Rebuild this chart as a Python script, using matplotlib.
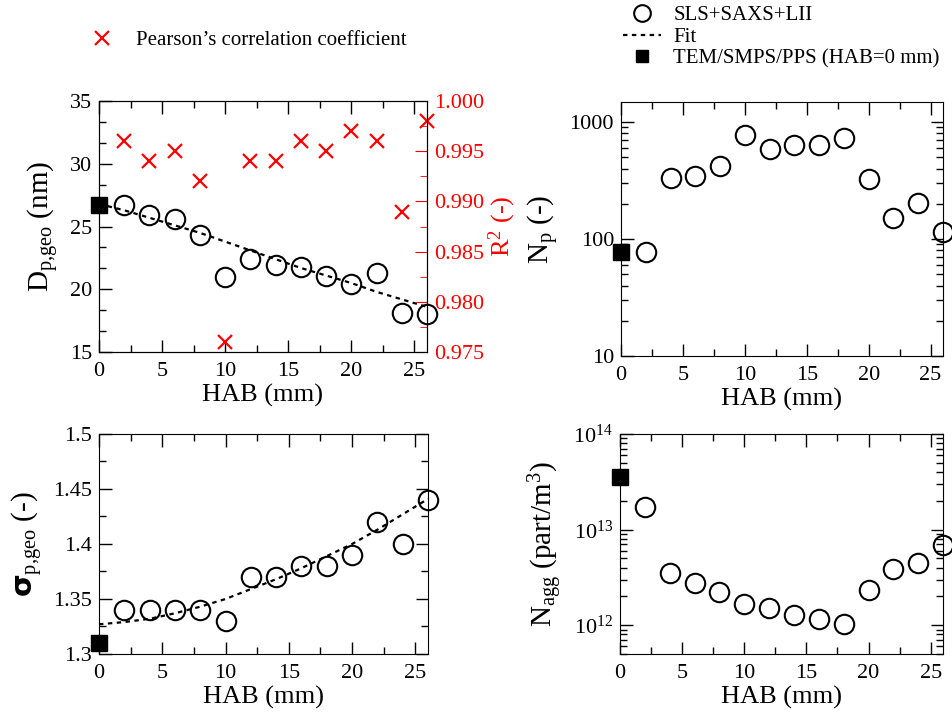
import numpy as np
import matplotlib.pyplot as plt
from matplotlib.ticker import AutoMinorLocator, MultipleLocator, LogLocator, NullFormatter, FixedLocator

plt.rcParams['font.family'] = ['Liberation Serif', 'DejaVu Serif']
plt.rcParams['mathtext.fontset'] = 'custom'
plt.rcParams['mathtext.rm'] = 'Liberation Serif'
plt.rcParams['mathtext.it'] = 'Liberation Serif:italic'

# data
hab = [2, 4, 6, 8, 10, 12, 14, 16, 18, 20, 22, 24, 26]
hab_fit = [0, 2, 4, 6, 8, 10, 12, 14, 16, 18, 20, 22, 24, 26]

dp = [26.7, 25.9, 25.6, 24.3, 21.0, 22.4, 21.9, 21.8, 21.1, 20.4, 21.3, 18.1, 18.0]
dp_fit = [26.8, 26.3, 25.7, 25.1, 24.5, 23.8, 23.1, 22.4, 21.7, 21.1, 20.5, 19.8, 19.2, 18.6]
dp_tem = 26.7
r2 = [0.996, 0.994, 0.995, 0.992, 0.976, 0.994, 0.994, 0.996, 0.995, 0.997, 0.996, 0.989, 0.998]

npart = [77, 334, 347, 421, 774, 585, 636, 636, 726, 324, 150, 202, 115]
np_tem = 77

sigma = [1.34, 1.34, 1.34, 1.34, 1.33, 1.37, 1.37, 1.38, 1.38, 1.39, 1.42, 1.40, 1.44]
sigma_fit = [1.327, 1.329, 1.332, 1.337, 1.343, 1.350, 1.359, 1.368, 1.378, 1.389, 1.400, 1.413, 1.427, 1.441]
sigma_tem = 1.31

nagg = [1.73e13, 3.48e12, 2.77e12, 2.23e12, 1.65e12, 1.52e12, 1.27e12, 1.15e12, 1.02e12,
        2.31e12, 3.83e12, 4.49e12, 6.89e12]
nagg_tem = 3.57e13

circ = dict(marker='o', ms=14, mfc='none', mec='black', mew=1.5, ls='none', clip_on=False, zorder=5)
sq = dict(marker='s', ms=11, color='black', ls='none', clip_on=False, zorder=6)
fitstyle = dict(color='black', lw=1.6, ls=(0, (2, 2)), clip_on=False)

fig = plt.figure(figsize=(9.52, 7.17), dpi=100)
ax1 = fig.add_axes([0.104, 0.509, 0.3445, 0.350])
ax2 = fig.add_axes([0.6523, 0.5035, 0.3382, 0.354])
ax3 = fig.add_axes([0.104, 0.0879, 0.3456, 0.3068])
ax4 = fig.add_axes([0.6513, 0.0879, 0.3393, 0.3068])

tick_fs = 16
label_fs = 19


def style_x(ax):
    ax.set_xlim(0, 26)
    ax.xaxis.set_major_locator(MultipleLocator(5))
    ax.xaxis.set_minor_locator(AutoMinorLocator(2))
    ax.set_xlabel('HAB (mm)', fontsize=label_fs, labelpad=2)
    ax.tick_params(which='both', direction='in', top=True, right=True, labelsize=tick_fs)
    ax.tick_params(which='major', length=9, width=1)
    ax.tick_params(which='minor', length=5, width=1)
    ax.tick_params(axis='x', which='major', pad=7)
    ax.tick_params(axis='y', which='major', pad=5)


# top-left: Dp,geo and R^2
ax1.plot(hab_fit, dp_fit, **fitstyle)
ax1.plot(hab, dp, **circ)
ax1.plot([0], [dp_tem], **sq)
style_x(ax1)
ax1.tick_params(right=False)
ax1.set_ylim(15, 35)
ax1.yaxis.set_major_locator(MultipleLocator(5))
ax1.yaxis.set_minor_locator(AutoMinorLocator(3))
ax1.set_ylabel(r'D$_{\mathrm{p{,}geo}}$ (nm)', fontsize=label_fs + 2, labelpad=6)

ax1r = ax1.twinx()
ax1r.plot(hab, r2, marker='x', ms=10, mew=1.6, color='red', ls='none', clip_on=False)
ax1r.set_ylim(0.975, 1.0)
ax1r.yaxis.set_major_locator(MultipleLocator(0.005))
ax1r.yaxis.set_minor_locator(AutoMinorLocator(2))
ax1r.yaxis.set_major_formatter(plt.FuncFormatter(lambda v, p: f'{v:.3f}'))
ax1r.tick_params(which='both', direction='in', colors='red', labelsize=tick_fs)
ax1r.tick_params(which='major', length=9, pad=5)
ax1r.tick_params(which='minor', length=5)
ax1r.set_ylabel(r'R$^2$ (-)', color='red', fontsize=label_fs, labelpad=2)

# top-right: Np
ax2.plot(hab, npart, **circ)
ax2.plot([0], [np_tem], **sq)
ax2.set_yscale('log')
ax2.set_ylim(10, 1480)
style_x(ax2)
ax2.yaxis.set_major_locator(FixedLocator([10, 100, 1000]))
ax2.yaxis.set_major_formatter(plt.FuncFormatter(lambda v, p: f'{v:g}'))
ax2.yaxis.set_minor_locator(LogLocator(base=10, subs=np.arange(2, 10)))
ax2.yaxis.set_minor_formatter(NullFormatter())
ax2.set_ylabel(r'N$_{\mathrm{p}}$ (-)', fontsize=label_fs + 2, labelpad=6)

# bottom-left: sigma
ax3.plot(hab_fit, sigma_fit, **fitstyle)
ax3.plot(hab, sigma, **circ)
ax3.plot([0], [sigma_tem], **sq)
style_x(ax3)
ax3.set_ylim(1.3, 1.5)
ax3.yaxis.set_major_locator(MultipleLocator(0.05))
ax3.yaxis.set_minor_locator(AutoMinorLocator(2))
ax3.yaxis.set_major_formatter(plt.FuncFormatter(lambda v, p: f'{v:g}'))
ax3.set_ylabel(r'$\mathbf{\sigma}_{\mathrm{p{,}geo}}$ (-)', fontsize=label_fs + 2, labelpad=6)

# bottom-right: Nagg
ax4.plot(hab, nagg, **circ)
ax4.plot([0], [nagg_tem], **sq)
ax4.set_yscale('log')
ax4.set_ylim(5e11, 1e14)
style_x(ax4)
ax4.yaxis.set_major_locator(FixedLocator([1e12, 1e13, 1e14]))
ax4.yaxis.set_minor_locator(LogLocator(base=10, subs=np.arange(2, 10)))
ax4.yaxis.set_minor_formatter(NullFormatter())
ax4.set_ylabel(r'N$_{\mathrm{agg}}$ (part/m$^3$)', fontsize=label_fs + 2, labelpad=6)

# legends
fig.legend(handles=[plt.Line2D([], [], marker='x', ms=10, mew=1.6, color='red', ls='none')],
           labels=["Pearson\u2019s correlation coefficient"], loc='center left',
           bbox_to_anchor=(0.066, 0.944), frameon=False, fontsize=15, handletextpad=0.6)
fig.legend(handles=[plt.Line2D([], [], marker='o', ms=12, mfc='none', mec='black', mew=1.5, ls='none'),
                    plt.Line2D([], [], **{k: v for k, v in fitstyle.items() if k != 'clip_on'}),
                    plt.Line2D([], [], marker='s', ms=9, color='black', ls='none')],
           labels=['SLS+SAXS+LII', 'Fit', 'TEM/SMPS/PPS (HAB=0 mm)'], loc='upper left',
           bbox_to_anchor=(0.635, 1.018), frameon=False, fontsize=15, handletextpad=0.6,
           labelspacing=0.1, handlelength=1.8)

fig.savefig('out.png', dpi=100)
